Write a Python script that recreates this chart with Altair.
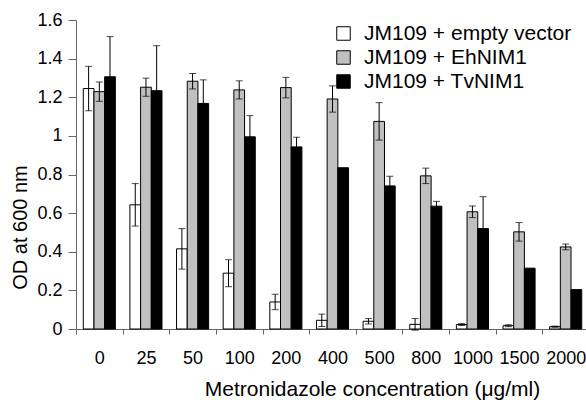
import altair as alt
import pandas as pd

conc = ["0", "25", "50", "100", "200", "400", "500", "800", "1000", "1500", "2000"]
series = ["JM109 + empty vector", "JM109 + EhNIM1", "JM109 + TvNIM1"]
colors = ["white", "#c0c0c0", "black"]

empty = [1.245, 0.643, 0.415, 0.289, 0.140, 0.045, 0.040, 0.024, 0.023, 0.017, 0.012]
empty_err = [0.115, 0.110, 0.105, 0.070, 0.040, 0.032, 0.014, 0.030, 0.005, 0.005, 0.003]
eh = [1.229, 1.252, 1.283, 1.238, 1.250, 1.191, 1.075, 0.793, 0.607, 0.503, 0.425]
eh_err = [0.050, 0.047, 0.040, 0.047, 0.053, 0.068, 0.097, 0.040, 0.030, 0.048, 0.015]
tv = [1.306, 1.234, 1.168, 0.995, 0.943, 0.835, 0.741, 0.636, 0.520, 0.315, 0.204]
tv_err = [0.208, 0.233, 0.122, 0.110, 0.050, 0.0, 0.050, 0.025, 0.165, 0.0, 0.0]
y_ticks = [0, 0.2, 0.4, 0.6, 0.8, 1.0, 1.2, 1.4, 1.6]

rows = []
for s, vals, errs in zip(series, [empty, eh, tv], [empty_err, eh_err, tv_err]):
    for c, v, e in zip(conc, vals, errs):
        rows.append(dict(conc=c, series=s, od=v, err=e, lo=v - e, hi=v + e))
df = pd.DataFrame(rows)
err_df = df[df.err > 0]

FONT = "Liberation Sans"

xscale = alt.Scale(paddingInner=0, paddingOuter=0, range=[0, 513])
x_axis = alt.Axis(
    title="Metronidazole concentration (μg/ml)",
    labelAngle=0,
    labelOverlap=False,
    tickBand="extent",
    tickSize=5,
    labelPadding=15,
    labelFontSize=18,
    labelFont=FONT,
    labelColor="black",
    titleFontSize=21,
    titleFont=FONT,
    titleFontWeight="normal",
    titleColor="black",
    titleX=296,
    titleY=66,
    titleAlign="center",
    titleBaseline="alphabetic",
    domainColor="#666",
    tickColor="#666",
)
x = alt.X("conc:N", sort=conc, scale=xscale, axis=x_axis)
xo = alt.XOffset(
    "series:N", sort=series, scale=alt.Scale(paddingInner=0, paddingOuter=0.68)
)
yscale = alt.Scale(domain=[0, 1.6], nice=False)
y_axis = alt.Axis(
    title="OD at 600 nm",
    values=y_ticks,
    format="~g",
    grid=False,
    labelOverlap=False,
    tickSize=8,
    labelPadding=6,
    labelFontSize=18,
    labelFont=FONT,
    labelColor="black",
    titleFontSize=20,
    titleFont=FONT,
    titleFontWeight="normal",
    titleColor="black",
    titleX=-56,
    titleY=207,
    titleAngle=270,
    titleAlign="center",
    titleBaseline="middle",
    domainColor="#666",
    tickColor="#666",
)

bars = alt.Chart(df).mark_bar(stroke="black", strokeWidth=1).encode(
    x=x,
    xOffset=xo,
    y=alt.Y("od:Q", scale=yscale, axis=y_axis),
    color=alt.Color(
        "series:N",
        sort=series,
        scale=alt.Scale(domain=series, range=colors),
        legend=alt.Legend(
            title=None,
            orient="none",
            legendX=257,
            legendY=3,
            symbolType="square",
            symbolSize=182,
            symbolStrokeColor="black",
            symbolStrokeWidth=1,
            labelFontSize=21,
            labelFont=FONT,
            labelColor="black",
            labelOffset=10,
            labelLimit=400,
            rowPadding=2,
            padding=0,
        ),
    ),
)

rules = alt.Chart(err_df).mark_rule(color="black", strokeWidth=1).encode(
    x=x, xOffset=xo, y=alt.Y("lo:Q", scale=yscale, axis=y_axis), y2="hi:Q"
)
caps_hi = alt.Chart(err_df).mark_tick(color="black", thickness=1, size=7, orient="horizontal").encode(
    x=x, xOffset=xo, y=alt.Y("hi:Q", scale=yscale, axis=y_axis)
)
caps_lo = alt.Chart(err_df).mark_tick(color="black", thickness=1, size=7, orient="horizontal").encode(
    x=x, xOffset=xo, y=alt.Y("lo:Q", scale=yscale, axis=y_axis)
)

chart = (
    alt.layer(bars, rules, caps_hi, caps_lo)
    .properties(
        width=510,
        height=309,
        autosize=alt.AutoSizeParams(type="none"),
        padding={"left": 76, "top": 20, "right": 0, "bottom": 71},
        background="white",
    )
    .configure_view(stroke=None)
)

chart.save("out.html", embed_options={"renderer": "svg", "actions": False})
